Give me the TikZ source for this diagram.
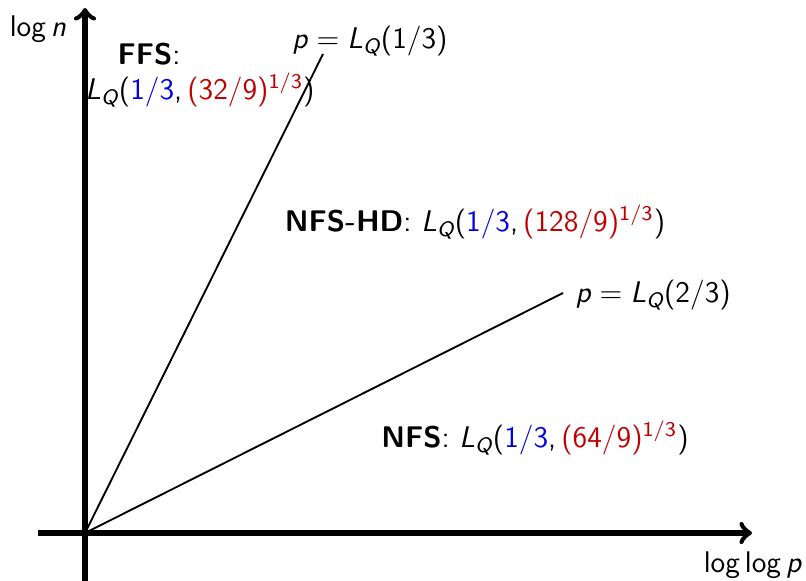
\documentclass[tikz,border=0pt]{standalone}
\usepackage{amsmath}
\usetikzlibrary{arrows}
\definecolor{myblue}{RGB}{0,0,230}
\definecolor{myred}{RGB}{190,0,0}
\newcommand{\vi}[1]{\textit{#1}}
\newcommand{\LQ}{\vi{L}$_{\text{\itshape Q}}$}
\newcommand{\eqs}{${}={}$}
\newcommand{\supt}[1]{$^{\text{#1}}$}
\tikzset{
  axis/.style={line width=1.9pt,->},
  ray/.style={line width=0.7pt},
  lbl/.style={inner sep=0pt,font=\sffamily\fontsize{11.2}{13}\selectfont}
}
\begin{document}
\begin{tikzpicture}[x=0.375pt,y=0.375pt]
\useasboundingbox (0,0) rectangle (806,581);
\coordinate (O) at (85,48);
\coordinate (xs) at (38,48);
\coordinate (xe) at (752,48);
\coordinate (ys) at (85,0);
\coordinate (ye) at (85,573);
\coordinate (r1) at (323,527);
\coordinate (r2) at (563,288);
\draw[axis] (xs) -- (xe);
\draw[axis] (ys) -- (ye);
\draw[ray] (O) -- (r1);
\draw[ray] (O) -- (r2);
\node[lbl] (ln) at (38,552) {log\,\vi{n}};
\node[lbl] (llp) at (753,16) {log\,log\,\vi{p}};
\node[lbl] (l1) at (370,540) {\vi{p}\eqs\LQ(1/3)};
\node[lbl,anchor=west] (l2) at (575,286) {\vi{p}\eqs\LQ(2/3)};
\node[lbl] (ffs) at (149,527) {\textbf{FFS}:};
\node[lbl] (ffs2) at (200,491) {\LQ(\textcolor{myblue}{1/3},\,\textcolor{myred}{(32/9)\supt{1/3}})};
\node[lbl] (hd) at (475,359) {\textbf{NFS-HD}: \LQ(\textcolor{myblue}{1/3},\,\textcolor{myred}{(128/9)\supt{1/3}})};
\node[lbl] (nfs) at (535,143) {\textbf{NFS}: \LQ(\textcolor{myblue}{1/3},\,\textcolor{myred}{(64/9)\supt{1/3}})};
\end{tikzpicture}
\end{document}
